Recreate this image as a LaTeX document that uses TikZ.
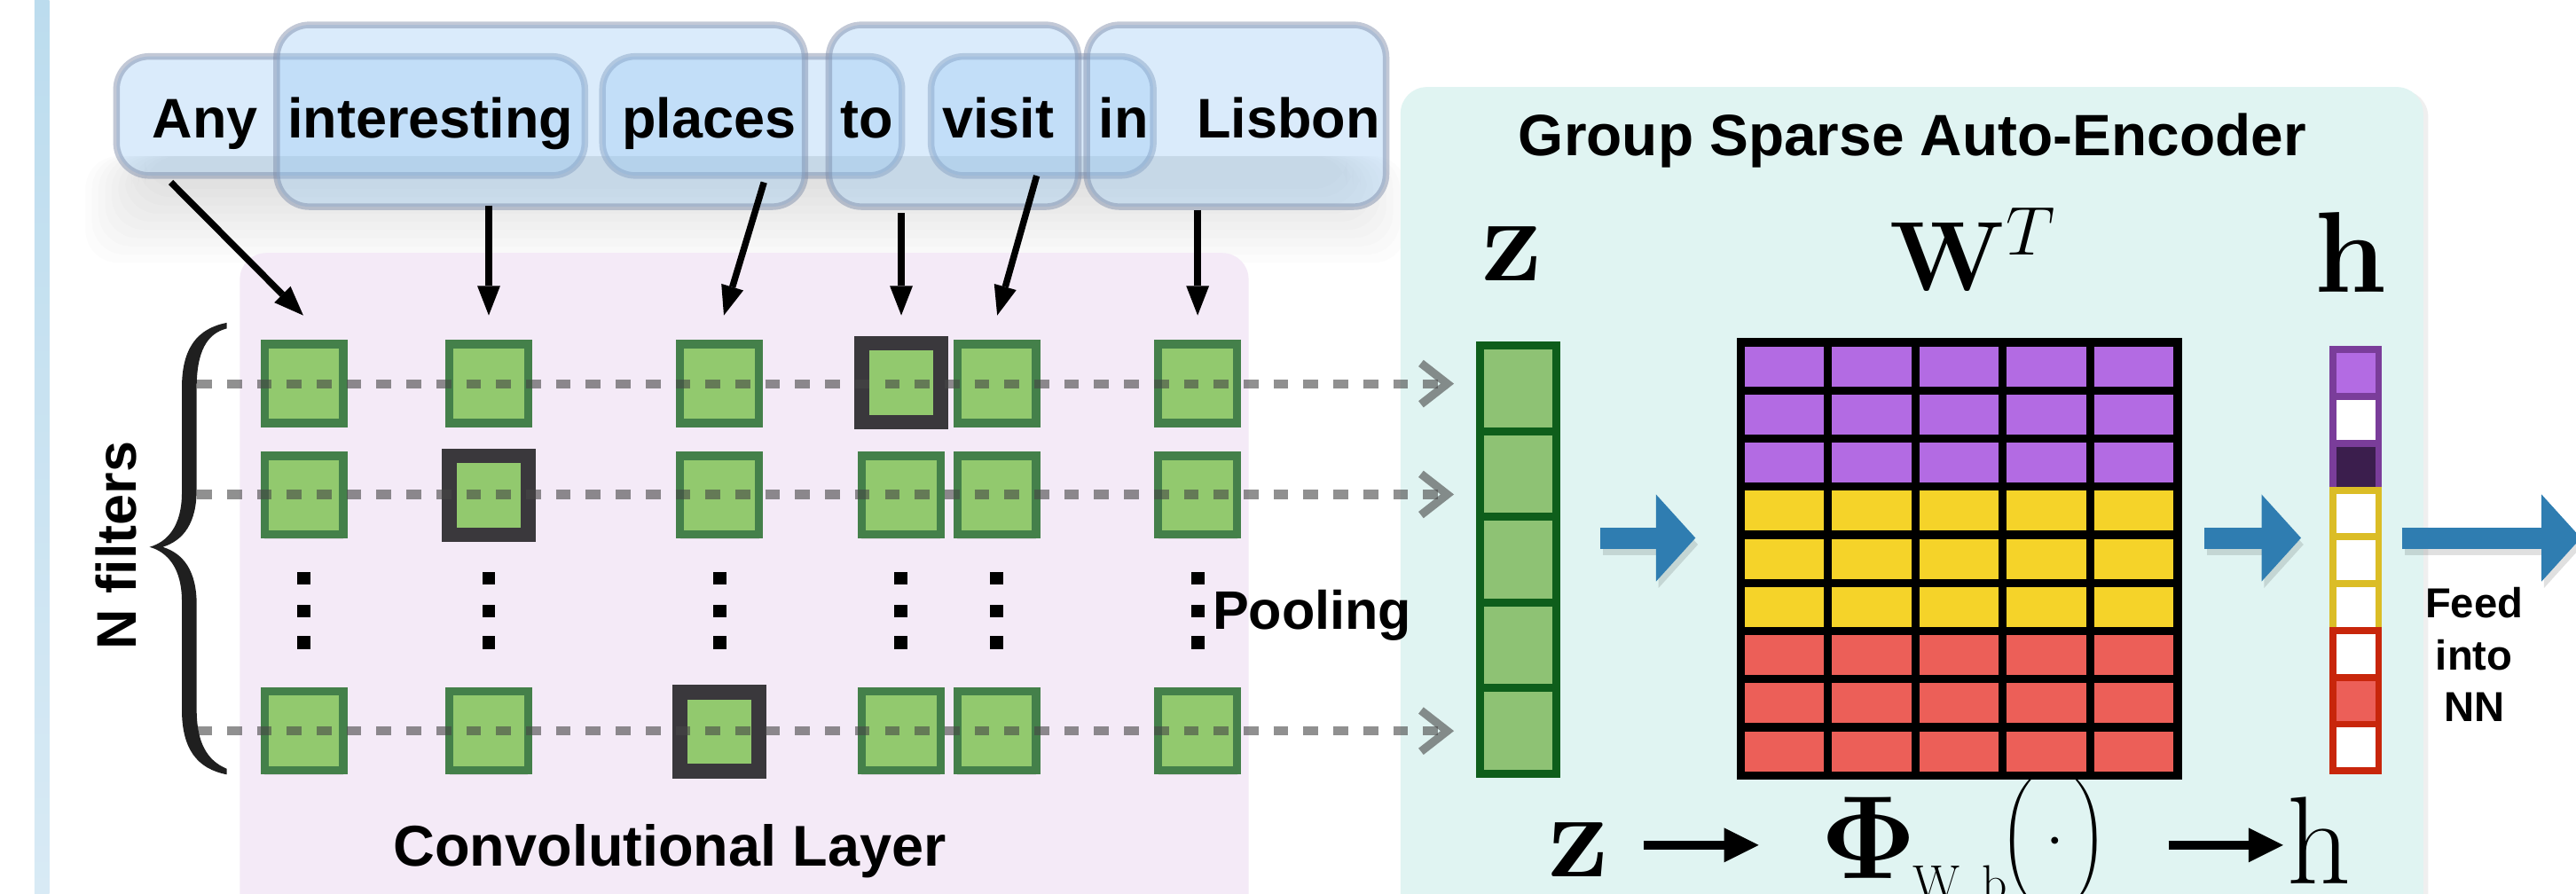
\RequirePackage{fix-cm}
\documentclass[tikz,border=0pt]{standalone}
\usepackage{amsmath}
\usepackage[no-math]{fontspec}
\newfontfamily\hv{Liberation Sans}
\usetikzlibrary{arrows.meta,shadows}
\definecolor{stripTop}{RGB}{188,220,238}
\definecolor{stripBot}{RGB}{216,234,245}
\definecolor{convBg}{RGB}{244,234,247}
\definecolor{gsaBg}{RGB}{224,244,242}
\definecolor{bubFill}{RGB}{150,200,245}
\definecolor{bubLine}{RGB}{120,135,165}
\definecolor{sqFill}{RGB}{146,201,110}
\definecolor{sqLine}{RGB}{68,128,74}
\definecolor{hiLine}{RGB}{58,56,60}
\definecolor{zFill}{RGB}{142,194,116}
\definecolor{zLine}{RGB}{14,94,27}
\definecolor{mPurple}{RGB}{179,107,227}
\definecolor{mYellow}{RGB}{245,211,41}
\definecolor{mRed}{RGB}{236,95,88}
\definecolor{hPurpleLine}{RGB}{122,61,154}
\definecolor{hDark}{RGB}{59,30,77}
\definecolor{hYellowLine}{RGB}{219,189,38}
\definecolor{hRedLine}{RGB}{200,38,11}
\definecolor{arrowBlue}{RGB}{47,125,177}
\definecolor{dotGray}{RGB}{70,70,70}
\begin{document}
\begin{tikzpicture}[x=1pt,y=-1pt,
  sans/.style={font={\hv\bfseries\fontsize{#1}{#1}\selectfont}, inner sep=0pt},
  word/.style={sans=34, anchor=base},
  bubble/.style={draw=bubLine, draw opacity=.45, fill=bubFill, fill opacity=.35, line width=4pt, rounded corners=20pt, inner sep=0pt},
  warrow/.style={line width=4pt, -{Triangle[length=18pt,width=14pt,line width=0pt]}},
  sq/.style={draw=sqLine, fill=sqFill, line width=5pt, minimum width=48pt, minimum height=48pt, inner sep=0pt, drop shadow={shadow xshift=0pt, shadow yshift=-3pt, opacity=.18}},
  hsq/.style={sq, draw=hiLine, line width=9pt},
  dotl/.style={draw=dotGray, draw opacity=.6, line width=5.5pt, dash pattern=on 9pt off 9.2pt, -{Straight Barb[length=16pt,width=25pt,line width=5pt]}},
  zcell/.style={draw=zLine, fill=zFill, line width=5pt, minimum width=46.5pt, minimum height=52.1pt, inner sep=0pt},
  mcell/.style={draw=black, line width=5pt, minimum width=53.2pt, minimum height=29.29pt, inner sep=0pt},
  hcell/.style={line width=4.3pt, minimum width=27.7pt, minimum height=28.5pt, inner sep=0pt},
  barrow/.style={draw=arrowBlue, line width=13pt, -{Triangle[length=24pt,width=53pt,line width=0pt]}},
  bshadow/.style={draw=black, opacity=.12, line width=13pt, -{Triangle[length=24pt,width=53pt,line width=0pt]}},
  karrow/.style={draw=black, line width=5pt, -{Triangle[length=21pt,width=21pt,line width=0pt]}},
  mathbig/.style={font=\fontsize{#1}{#1}\selectfont, inner sep=0pt},
]
\useasboundingbox (0,0) rectangle (1568,544);
\fill[white] (0,0) rectangle (1568,544);
% left strip
\shade[top color=stripTop, bottom color=stripBot] (21,0) rectangle (30,544);
% soft gray shadow under the words
\foreach \i in {0,...,9} {
  \fill[black, opacity=0.011, rounded corners=20pt] ({52+4*\i},95) rectangle ({856-4*\i},{160-5*\i});
}
% panels
\fill[convBg, rounded corners=16pt] (146,154) rectangle (760,565);
\fill[gsaBg, rounded corners=16pt, drop shadow={shadow xshift=3pt, shadow yshift=-2pt, opacity=.12}] (852.5,53) rectangle (1475,565);

% bubbles
\node[bubble, minimum width=285.1pt, minimum height=72.5pt] (b1) at (213.45,70.6) {};
\node[bubble, minimum width=182.3pt, minimum height=72.5pt] (b3) at (457.85,70.6) {};
\node[bubble, minimum width=135.3pt, minimum height=72.5pt] (b5) at (634.35,70.6) {};
\node[bubble, minimum width=321.6pt, minimum height=110.7pt] (b2) at (329.2,70.5) {};
\node[bubble, minimum width=151.9pt, minimum height=110.7pt] (b4) at (580.45,70.5) {};
\node[bubble, minimum width=182.2pt, minimum height=110.7pt] (b6) at (752.6,70.5) {};

% words
\node[word] (w1) at (124.9,83.7) {Any};
\node[word] (w2) at (262,83.7) {interesting};
\node[word] (w3) at (431.5,83.7) {places};
\node[word] (w4) at (527.5,83.7) {to};
\node[word] (w5) at (607.5,83.7) {visit};
\node[word] (w6) at (684,83.7) {in};
\node[word] (w7) at (784.3,83.7) {Lisbon};

% word arrows
\coordinate (a1s) at (104,111);   \coordinate (a1e) at (184.6,192);
\coordinate (a2s) at (297.5,125); \coordinate (a2e) at (297.5,192);
\coordinate (a3s) at (465,111);   \coordinate (a3e) at (440.6,192);
\coordinate (a4s) at (548.6,129.6); \coordinate (a4e) at (548.6,192);
\coordinate (a5s) at (631,107);   \coordinate (a5e) at (607,192);
\coordinate (a6s) at (729,127.8); \coordinate (a6e) at (729,192);
\foreach \k in {1,...,6} { \draw[warrow] (a\k s) -- (a\k e); }

% squares
\foreach \c/\x in {1/185,2/297.5,3/438,4/548.5,5/606.7,6/729} {
  \foreach \r/\y in {1/233.5,2/301.5,3/445} {
    \node[sq] (s\r\c) at (\x,\y) {};
  }
  \foreach \y in {352,372,391} { \fill (\x-4,\y-4) rectangle (\x+4,\y+4); }
}
\node[hsq] (h14) at (548.5,233) {};
\node[hsq] (h22) at (297.5,301.5) {};
\node[hsq] (h33) at (438,445.5) {};

% dotted pooling lines
\coordinate (d1s) at (120,233.6); \coordinate (d1e) at (885,233.6);
\coordinate (d2s) at (120,301);   \coordinate (d2e) at (885,301);
\coordinate (d3s) at (120,445);   \coordinate (d3e) at (885,445);
\foreach \k in {1,2,3} { \draw[dotl] (d\k s) -- (d\k e); }

\node[sans=33, anchor=base west] (pool) at (738,383) {Pooling};
\node[sans=35, anchor=base] (convlab) at (407.6,527) {Convolutional Layer};
\node[sans=34, rotate=90] (nf) at (70.5,332) {N filters};

% brace
\fill[black!88] (138,196.5) .. controls (120,200) and (110.7,212) .. (110.7,236)
  -- (110.7,300) .. controls (110.7,320) and (102,330) .. (91,333)
  .. controls (102,336) and (110.7,346) .. (110.7,366)
  -- (110.7,432) .. controls (110.7,456) and (120,468) .. (138,471.5)
  -- (138,468) .. controls (126,463) and (119.7,452) .. (119.7,432)
  -- (119.7,368) .. controls (119.7,348) and (112,337) .. (99,333)
  .. controls (112,329) and (119.7,318) .. (119.7,298)
  -- (119.7,236) .. controls (119.7,214) and (126,203) .. (138,200) -- cycle;

% Group sparse auto-encoder
\node[sans=35.5, anchor=base] (gsa) at (1164,94.5) {Group Sparse Auto-Encoder};
\node[mathbig=74, anchor=base west] (zt) at (902,171) {$\mathbf{z}$};
\node[mathbig=60, anchor=base west] (wt) at (1150,177) {$\mathbf{W}^{T}$};
\node[mathbig=70, anchor=base west] (ht) at (1409,178) {$\mathbf{h}$};

% z vector
\foreach \k in {1,...,5} {
  \node[zcell] (z\k) at (924.25,{236.55+52.1*(\k-1)}) {};
}
% matrix
\foreach \r in {1,...,9} {
  \ifnum\r<4 \def\mc{mPurple}\else\ifnum\r<7 \def\mc{mYellow}\else\def\mc{mRed}\fi\fi
  \foreach \c in {1,...,5} {
    \node[mcell, fill=\mc] (m\r\c) at ({1086.1+53.2*(\c-1)},{223.1+29.29*(\r-1)}) {};
  }
}
% h vector
\foreach \k/\f/\b in {1/mPurple/hPurpleLine,2/white/hPurpleLine,3/hDark/hPurpleLine,
  4/white/hYellowLine,5/white/hYellowLine,6/white/hYellowLine,
  7/white/hRedLine,8/mRed/hRedLine,9/white/hRedLine} {
  \node[hcell, fill=\f, draw=\b] (hv\k) at (1434,{227.1+28.5*(\k-1)}) {};
}

% blue arrows
\coordinate (ba1s) at (974,327.5);  \coordinate (ba1e) at (1032,327.5);
\coordinate (ba2s) at (1342,327.5); \coordinate (ba2e) at (1400.6,327.5);
\coordinate (ba3s) at (1462,327.5); \coordinate (ba3e) at (1571,327.5);
\foreach \k in {1,2,3} {
  \draw[bshadow, transform canvas={xshift=1.5pt,yshift=-4pt}] (ba\k s) -- (ba\k e);
  \draw[barrow] (ba\k s) -- (ba\k e);
}

\node[sans=25.5, anchor=base] (feed1) at (1506,376) {Feed};
\node[sans=25.5, anchor=base] (feed2) at (1506,408) {into};
\node[sans=25.5, anchor=base] (feed3) at (1506,439.5) {NN};

% bottom formula
\node[mathbig=74, anchor=base west] (zb) at (942,533.6) {$\mathbf{z}$};
\coordinate (k1s) at (1000.5,514.5); \coordinate (k1e) at (1070.5,514.5);
\draw[karrow] (k1s) -- (k1e);
\node[mathbig=72, anchor=base west] (phi) at (1108,534.6) {$\boldsymbol{\Phi}$};
\node[mathbig=30, anchor=base west] (sub) at (1164,548) {$\mathrm{W},\mathrm{b}$};
\node[mathbig=24] (lp) at (1228.5,512) {$\left(\vcenter{\hbox{\rule{0pt}{70pt}}}\right.$};
\node[mathbig=40, anchor=base] (dotc) at (1251,522) {$\cdot$};
\node[mathbig=24] (rp) at (1272,512) {$\left.\vcenter{\hbox{\rule{0pt}{70pt}}}\right)$};
\coordinate (k2s) at (1320,514.5); \coordinate (k2e) at (1389.7,514.5);
\draw[karrow] (k2s) -- (k2e);
\node[mathbig=76, anchor=base west] (hb) at (1392,538) {$\mathrm{h}$};
\end{tikzpicture}
\end{document}
